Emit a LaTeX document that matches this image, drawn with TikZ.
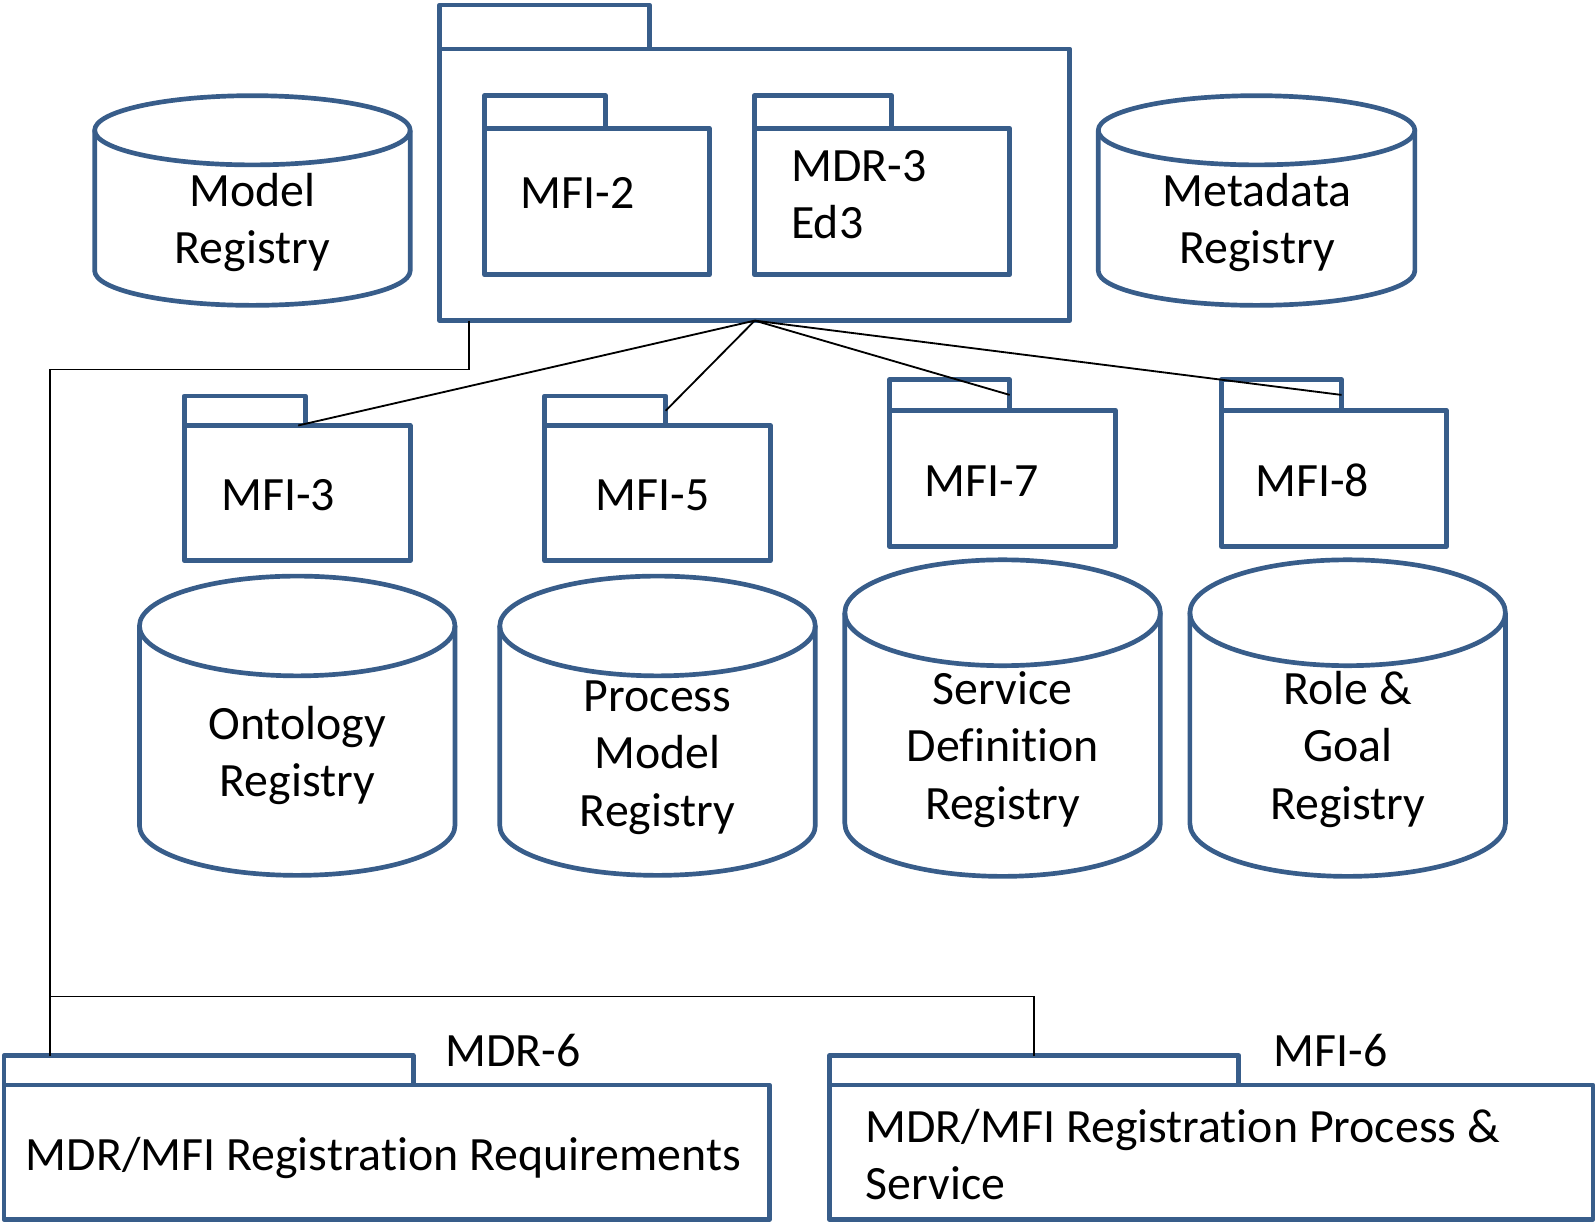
\documentclass[tikz,border=0pt]{standalone}
\usepackage{fontspec}
\setmainfont[Ligatures={NoCommon,NoRare}]{Carlito}
\usetikzlibrary{fit,calc}
\definecolor{pkgblue}{RGB}{56,93,138}
\newcommand\lblfont{\fontsize{23.5pt}{28.3pt}\selectfont}
\tikzset{
  pkg/.style={draw=pkgblue, fill=white, line width=2.3pt, line join=round, inner sep=0pt, outer sep=0pt, rectangle},
  cyl/.style={draw=pkgblue, line width=2.3pt, line join=round},
  conn/.style={draw=black, line width=0.9pt},
  lbl/.style={inner sep=0pt, font=\lblfont, anchor=base},
  lbll/.style={lbl, anchor=base west}
}
% name, xleft, ytabtop, xtabright, ybodytop, xright, ybottom
\newcommand\pkgbox[7]{%
  \node[pkg, fit={(#2,#3) (#4,#5)}] (#1tab) {};
  \node[pkg, fit={(#2,#5) (#6,#7)}] (#1) {};
}
% xleft, xright, ytopcentre, ybottomcentre, ry
\newcommand\cylshape[5]{%
  \pgfmathsetmacro\cylcx{(#1+#2)/2}%
  \pgfmathsetmacro\cylrx{(#2-#1)/2}%
  \draw[cyl] (#1,#3) -- (#1,#4) arc[start angle=180, end angle=0, x radius=\cylrx, y radius=#5] -- (#2,#3);
  \draw[cyl] (\cylcx,#3) ellipse[x radius=\cylrx, y radius=#5];
}
\begin{document}
\begin{tikzpicture}[x=0.5pt, y=-0.5pt]
\useasboundingbox (0,0) rectangle (1568,1202);

% top package with inner packages
\pkgbox{big}{432}{5}{638}{48}{1051}{315}
\pkgbox{mfitwo}{476}{94}{595}{126}{697}{270}
\pkgbox{mdrthree}{741}{94}{876}{126}{992}{270}
\node[lbll] (mfitwoL) at (511,205) {MFI-2};
\node[lbll] (mdrthreeA) at (777,178) {MDR-3};
\node[lbll] (mdrthreeB) at (777,234) {Ed3};

% top cylinders
\cylshape{93}{403}{128}{266}{34}
\node[lbl] (modelA) at (248,203) {Model};
\node[lbl] (modelB) at (248,259) {Registry};
\cylshape{1079}{1390}{128}{266}{34}
\node[lbl] (metaA) at (1235,203) {Metadata};
\node[lbl] (metaB) at (1235,259) {Registry};

% middle packages
\pkgbox{mfithree}{181}{389}{300}{418}{403}{551}
\pkgbox{mfifive}{535}{389}{654}{418}{757}{551}
\pkgbox{mfiseven}{874}{373}{992}{403}{1096}{537}
\pkgbox{mfieight}{1200}{373}{1318}{403}{1421}{537}
\node[lbll] (mfithreeL) at (217,502) {MFI-3};
\node[lbll] (mfifiveL) at (585,502) {MFI-5};
\node[lbll] (mfisevenL) at (908,488) {MFI-7};
\node[lbll] (mfieightL) at (1233,488) {MFI-8};

% lower cylinders
\cylshape{137}{447}{615}{811}{49}
\node[lbl] (ontA) at (292,727) {Ontology};
\node[lbl] (ontB) at (292,783) {Registry};
\cylshape{491}{801}{615}{811}{49}
\node[lbl] (procA) at (646,699) {Process};
\node[lbl] (procB) at (646,755) {Model};
\node[lbl] (procC) at (646,812) {Registry};
\cylshape{830}{1140}{602}{809}{52}
\node[lbl] (servA) at (985,692) {Service};
\node[lbl] (servB) at (985,748) {Definition};
\node[lbl] (servC) at (985,805) {Registry};
\cylshape{1169}{1479}{602}{809}{52}
\node[lbl] (roleA) at (1324,692) {Role \&};
\node[lbl] (roleB) at (1324,748) {Goal};
\node[lbl] (roleC) at (1324,805) {Registry};

% bottom packages
\pkgbox{mdrsix}{4}{1037}{406}{1066}{756}{1198}
\pkgbox{mfisix}{815}{1037}{1217}{1066}{1565}{1198}
\node[lbll] (mdrsixL) at (437,1048) {MDR-6};
\node[lbll] (mfisixL) at (1251,1048) {MFI-6};
\node[lbll] (mdrsixT) at (25,1150) {MDR/MFI Registration Requirements};
\node[lbll] (mfisixA) at (850,1122) {MDR/MFI Registration Process \&};
\node[lbll] (mfisixB) at (850,1178) {Service};

% connectors
\draw[conn] (big.south) -- ($(mfithreetab.south east)+(-7,0)$);
\draw[conn] (big.south) -- (mfifivetab.east);
\draw[conn] (big.south) -- (mfiseventab.east);
\draw[conn] (big.south) -- (mfieighttab.east);
\coordinate (elbowA) at (49,363);
\coordinate (elbowB) at (49,979);
\draw[conn] ($(big.south west)+(29,0)$) |- (elbowA) -- (mdrsixtab.north -| elbowA);
\draw[conn] (elbowB) -| ($(mfisixtab.north west)+(201,0)$);
\end{tikzpicture}
\end{document}
